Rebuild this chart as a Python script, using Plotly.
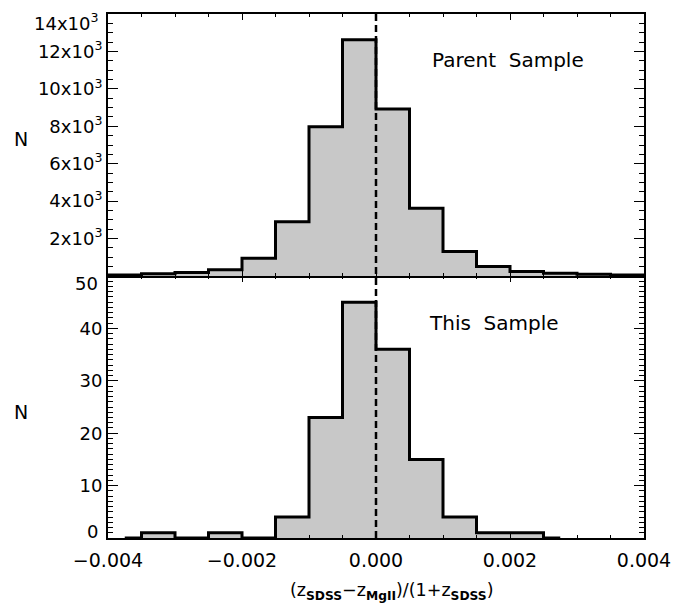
import plotly.graph_objects as go

# ---------------- data ----------------
# Parent sample histogram: bin edges and counts
parent_edges = [-0.0040, -0.0035, -0.0030, -0.0025, -0.0020, -0.0015, -0.0010, -0.0005,
                0.0000, 0.0005, 0.0010, 0.0015, 0.0020, 0.0025, 0.0030, 0.0035, 0.0040]
parent_counts = [50, 120, 190, 330, 950, 2900, 7970, 12630,
                 8920, 3620, 1310, 510, 240, 150, 100, 50]

# This sample histogram: bin centres and counts
this_centers = [-0.00375, -0.00325, -0.00275, -0.00225, -0.00175, -0.00125, -0.00075,
                -0.00025, 0.00025, 0.00075, 0.00125, 0.00175, 0.00225, 0.00275]
this_counts = [0, 1, 0, 1, 0, 4, 23, 45, 36, 15, 4, 1, 1, 0]

# axis ticks
x_tickvals = [-0.004, -0.002, 0.0, 0.002, 0.004]
x_ticktext = ["\u22120.004", "\u22120.002", "0.000", "0.002", "0.004"]
top_tickvals = [2000, 4000, 6000, 8000, 10000, 12000]
top_ticktext = ["2x10<sup>3</sup>", "4x10<sup>3</sup>", "6x10<sup>3</sup>", "8x10<sup>3</sup>",
                "10x10<sup>3</sup>", "12x10<sup>3</sup>"]
bot_tickvals = [10, 20, 30, 40]
bot_ticktext = ["10", "20", "30", "40"]

FONT = "DejaVu Sans"
FILL = "#c8c8c8"

fig = go.Figure()

fig.add_trace(go.Scatter(
    x=parent_edges, y=parent_counts + [parent_counts[-1]],
    mode="lines", line=dict(color="black", width=3, shape="hv"),
    fill="tozeroy", fillcolor=FILL, xaxis="x2", yaxis="y2", showlegend=False,
    hoverinfo="skip"))

fig.add_trace(go.Scatter(
    x=this_centers, y=this_counts,
    mode="lines", line=dict(color="black", width=3, shape="hvh"),
    fill="tozeroy", fillcolor=FILL, xaxis="x", yaxis="y", showlegend=False,
    hoverinfo="skip"))

axis_common = dict(showline=True, linecolor="black", linewidth=2, mirror="ticks",
                   ticks="inside", tickcolor="black", tickwidth=1,
                   showgrid=False, zeroline=False,
                   tickfont=dict(family=FONT, size=18, color="black"))

fig.update_layout(
    width=690, height=604,
    margin=dict(l=108, r=46, t=14, b=66),
    paper_bgcolor="white", plot_bgcolor="white",
    xaxis=dict(axis_common, domain=[0, 1], range=[-0.004, 0.004],
               tickmode="array", tickvals=x_tickvals, ticktext=x_ticktext, ticklen=6,
               tickfont=dict(family=FONT, size=19, color="black"), ticklabelstandoff=4,
               minor=dict(tickmode="linear", tick0=0, dtick=0.0005, ticklen=3,
                          ticks="inside", tickcolor="black"),
               anchor="y"),
    yaxis=dict(axis_common, domain=[0, 0.5], range=[0, 50],
               tickmode="array", tickvals=bot_tickvals, ticktext=bot_ticktext, ticklen=10,
               minor=dict(tickmode="linear", tick0=0, dtick=1, ticklen=5,
                          ticks="inside", tickcolor="black"),
               anchor="x"),
    xaxis2=dict(axis_common, domain=[0, 1], range=[-0.004, 0.004], matches="x",
                tickmode="array", tickvals=x_tickvals, ticktext=x_ticktext, ticklen=6,
                showticklabels=False,
                minor=dict(tickmode="linear", tick0=0, dtick=0.0005, ticklen=3,
                           ticks="inside", tickcolor="black"),
                anchor="y2"),
    yaxis2=dict(axis_common, domain=[0.5, 1], range=[0, 14000],
                tickmode="array", tickvals=top_tickvals, ticktext=top_ticktext, ticklen=10,
                minor=dict(tickmode="linear", tick0=0, dtick=500, ticklen=5,
                           ticks="inside", tickcolor="black"),
                anchor="x2"),
)

# dashed zero line across both panels
fig.add_shape(type="line", xref="x", yref="paper", x0=0, x1=0, y0=0, y1=1,
              line=dict(color="black", width=2.5, dash="7px,4px"), layer="above")

ann_font = dict(family=FONT, size=18, color="black")
annotations = [
    # end tick labels, nudged inside the panel as in the original
    dict(xref="paper", yref="y2", x=0, y=14000, xshift=-8, yshift=-8,
         xanchor="right", yanchor="middle", text="14x10<sup>3</sup>", showarrow=False, font=ann_font),
    dict(xref="paper", yref="y", x=0, y=50, xshift=-8, yshift=-7,
         xanchor="right", yanchor="middle", text="50", showarrow=False, font=ann_font),
    dict(xref="paper", yref="y", x=0, y=0, xshift=-8, yshift=7,
         xanchor="right", yanchor="middle", text="0", showarrow=False, font=ann_font),
    # y titles
    dict(xref="paper", yref="paper", x=-0.162, y=(538 - 139) / 524,
         xanchor="center", yanchor="middle", text="N", showarrow=False,
         font=dict(family=FONT, size=19, color="black")),
    dict(xref="paper", yref="paper", x=-0.162, y=(538 - 412) / 524,
         xanchor="center", yanchor="middle", text="N", showarrow=False,
         font=dict(family=FONT, size=19, color="black")),
    # panel labels
    dict(xref="paper", yref="paper", x=(508 - 108) / 536, y=(538 - 60) / 524,
         xanchor="center", yanchor="middle", text="Parent  Sample", showarrow=False,
         font=dict(family=FONT, size=20, color="black")),
    dict(xref="paper", yref="paper", x=(494 - 108) / 536, y=(538 - 323) / 524,
         xanchor="center", yanchor="middle", text="This  Sample", showarrow=False,
         font=dict(family=FONT, size=20, color="black")),
    # x title
    dict(xref="paper", yref="paper", x=(392 - 108) / 536, y=(538 - 591) / 524,
         xanchor="center", yanchor="middle",
         text="(z<sub><b>SDSS</b></sub>\u2212z<sub><b>MgII</b></sub>)/(1+z<sub><b>SDSS</b></sub>)",
         showarrow=False, font=dict(family=FONT, size=17.5, color="black")),
]
fig.update_layout(annotations=annotations)

fig.write_html("out.html")
